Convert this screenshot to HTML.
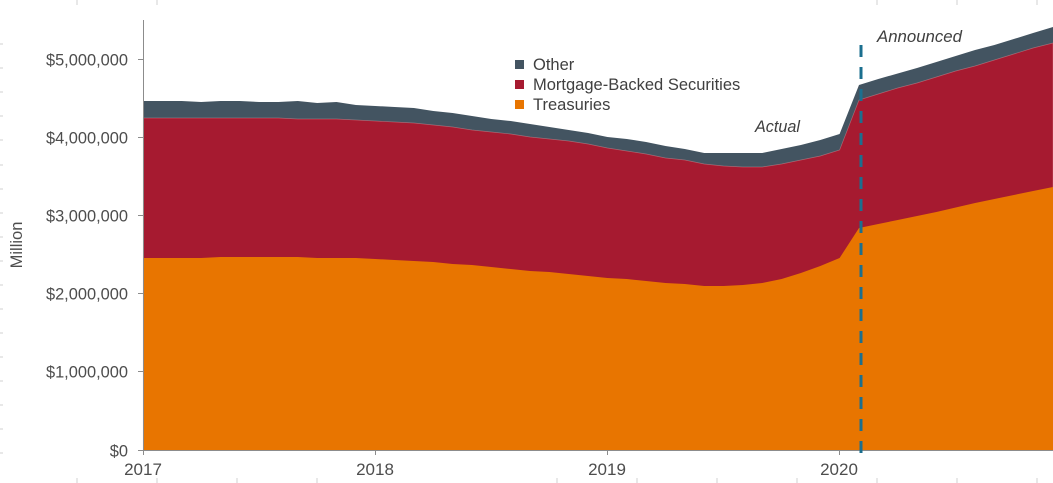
<!DOCTYPE html>
<html>
<head>
<meta charset="utf-8">
<style>
html,body{margin:0;padding:0;background:#fff;}
body{width:1053px;height:483px;overflow:hidden;}
svg{display:block;}
text{font-family:"Liberation Sans",Arial,sans-serif;}
</style>
</head>
<body>
<svg width="1053" height="483" viewBox="0 0 1053 483" xmlns="http://www.w3.org/2000/svg">
  <rect width="1053" height="483" fill="#fff"/>

  <!-- ruler marks at the edges -->
  <g stroke="#d0d0d0" stroke-width="1">
    <line x1="77" y1="0" x2="77" y2="5"/><line x1="157" y1="0" x2="157" y2="5"/>
    <line x1="877" y1="0" x2="877" y2="5"/><line x1="957" y1="0" x2="957" y2="5"/><line x1="1037" y1="0" x2="1037" y2="5"/>
    <line x1="77" y1="478" x2="77" y2="483"/><line x1="157" y1="478" x2="157" y2="483"/><line x1="237" y1="478" x2="237" y2="483"/>
    <line x1="317" y1="478" x2="317" y2="483"/><line x1="557" y1="478" x2="557" y2="483"/><line x1="637" y1="478" x2="637" y2="483"/>
    <line x1="717" y1="478" x2="717" y2="483"/><line x1="797" y1="478" x2="797" y2="483"/><line x1="877" y1="478" x2="877" y2="483"/>
    <line x1="957" y1="478" x2="957" y2="483"/><line x1="1037" y1="478" x2="1037" y2="483"/>
    <line x1="0" y1="44" x2="3" y2="44"/><line x1="0" y1="68" x2="3" y2="68"/><line x1="0" y1="92" x2="3" y2="92"/>
    <line x1="0" y1="116" x2="3" y2="116"/><line x1="0" y1="140" x2="3" y2="140"/><line x1="0" y1="165" x2="3" y2="165"/>
    <line x1="0" y1="189" x2="3" y2="189"/><line x1="0" y1="213" x2="3" y2="213"/><line x1="0" y1="237" x2="3" y2="237"/>
    <line x1="0" y1="261" x2="3" y2="261"/><line x1="0" y1="285" x2="3" y2="285"/><line x1="0" y1="309" x2="3" y2="309"/>
    <line x1="0" y1="333" x2="3" y2="333"/><line x1="0" y1="357" x2="3" y2="357"/><line x1="0" y1="381" x2="3" y2="381"/>
    <line x1="0" y1="405" x2="3" y2="405"/><line x1="0" y1="429" x2="3" y2="429"/><line x1="0" y1="453" x2="3" y2="453"/>
  </g>

  <!-- Other (total) -->
  <polygon fill="#435461" points="143,450 143,101 162.4,101 181.7,101 201.1,102 220.4,101 239.8,101 259.1,102 278.5,102 297.8,101 317.2,103 336.5,102 355.9,105 375.2,106 394.6,107 413.9,108 433.3,111 452.6,113 472,116 491.3,119 510.7,121 530,124 549.4,127 568.7,130 588.1,133 607.4,137 626.8,139 646.1,142 665.5,146 684.8,149 704.2,153 723.5,153 742.9,153 762.2,153 781.6,149 800.9,145 820.3,140 839.6,134 859,85 878.3,79 897.7,73.5 917,68 936.4,62 955.7,56 975.1,50 994.4,45 1013.8,39 1033.1,33 1053,27 1053,450"/>

  <!-- MBS -->
  <polygon fill="#a61a30" stroke="rgba(255,200,200,0.35)" stroke-width="0.7" points="143,450 143,118 162.4,118 181.7,118 201.1,118 220.4,118 239.8,118 259.1,118 278.5,118 297.8,119 317.2,119 336.5,119 355.9,120 375.2,121 394.6,122 413.9,123 433.3,125 452.6,127 472,130 491.3,132 510.7,134 530,137 549.4,139 568.7,141 588.1,144 607.4,148 626.8,151 646.1,154 665.5,158 684.8,160 704.2,164 723.5,166 742.9,167 762.2,167 781.6,164 800.9,160 820.3,156 839.6,150 859,100 878.3,94 897.7,88 917,83 936.4,77 955.7,71 975.1,66 994.4,60 1013.8,54 1033.1,48 1053,43 1053,450"/>

  <!-- Treasuries -->
  <polygon fill="#e87500" points="143,450 143,258 162.4,258 181.7,258 201.1,258 220.4,257 239.8,257 259.1,257 278.5,257 297.8,257 317.2,258 336.5,258 355.9,258 375.2,259 394.6,260 413.9,261 433.3,262 452.6,264 472,265 491.3,267 510.7,269 530,271 549.4,272 568.7,274 588.1,276 607.4,278 626.8,279 646.1,281 665.5,283 684.8,284 704.2,286 723.5,286 742.9,285 762.2,283 781.6,279 800.9,273 820.3,266 839.6,258 859,228 878.3,224 897.7,220 917,216 936.4,212 955.7,207.5 975.1,203 994.4,199 1013.8,195 1033.1,191 1053,187 1053,450"/>

  <!-- axes -->
  <g stroke="#8c8c8c" stroke-width="1">
    <line x1="143.5" y1="20" x2="143.5" y2="450"/>
    <line x1="143" y1="450.5" x2="1053" y2="450.5"/>
    <line x1="138" y1="59.5" x2="143" y2="59.5"/>
    <line x1="138" y1="137.5" x2="143" y2="137.5"/>
    <line x1="138" y1="215.5" x2="143" y2="215.5"/>
    <line x1="138" y1="293.5" x2="143" y2="293.5"/>
    <line x1="138" y1="371.5" x2="143" y2="371.5"/>
    <line x1="138" y1="450.5" x2="143" y2="450.5"/>
    <line x1="143.5" y1="450" x2="143.5" y2="455"/>
    <line x1="375.5" y1="450" x2="375.5" y2="455"/>
    <line x1="607.5" y1="450" x2="607.5" y2="455"/>
    <line x1="839.5" y1="450" x2="839.5" y2="455"/>
  </g>

  <!-- dashed announcement line -->
  <line x1="861" y1="45" x2="861" y2="459" stroke="#1b6f8f" stroke-width="3" stroke-dasharray="12,10"/>

  <!-- y labels -->
  <g fill="#4d4d4d" font-size="16.4" text-anchor="end">
    <text x="128" y="65.5">$5,000,000</text>
    <text x="128" y="143.5">$4,000,000</text>
    <text x="128" y="221.5">$3,000,000</text>
    <text x="128" y="299.5">$2,000,000</text>
    <text x="128" y="377.5">$1,000,000</text>
    <text x="128" y="456.5">$0</text>
  </g>
  <text x="16" y="245" fill="#4d4d4d" font-size="16.5" text-anchor="middle" transform="rotate(-90 16 245)" dy="6">Million</text>

  <!-- x labels -->
  <g fill="#4d4d4d" font-size="17" text-anchor="middle">
    <text x="143" y="475">2017</text>
    <text x="375" y="475">2018</text>
    <text x="607" y="475">2019</text>
    <text x="839" y="475">2020</text>
  </g>

  <!-- legend -->
  <rect x="515" y="60" width="9" height="9" fill="#435461"/>
  <rect x="515" y="80" width="9" height="9" fill="#a61a30"/>
  <rect x="515" y="100" width="9" height="9" fill="#e87500"/>
  <g fill="#404040" font-size="16.5">
    <text x="533" y="70">Other</text>
    <text x="533" y="90">Mortgage-Backed Securities</text>
    <text x="533" y="110">Treasuries</text>
  </g>

  <!-- annotations -->
  <text x="755" y="132" fill="#404040" font-size="16.2" font-style="italic">Actual</text>
  <text x="877" y="42" fill="#404040" font-size="16.8" font-style="italic">Announced</text>
</svg>
</body>
</html>
